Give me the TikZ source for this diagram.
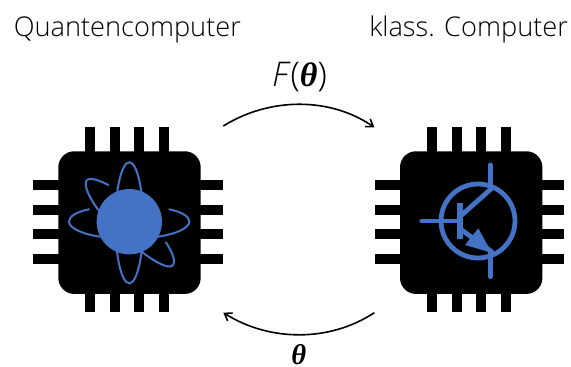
\documentclass[tikz,border=0pt]{standalone}
\usepackage{fontspec}
\setmainfont{Open Sans Light}[BoldFont=Open Sans Bold,ItalicFont=Open Sans Light Italic,BoldItalicFont=Open Sans Bold Italic]
\newfontfamily\thetafont{Liberation Serif}
\usetikzlibrary{arrows.meta}
\definecolor{cblue}{HTML}{4472C4}
\tikzset{
  px/.style={x=0.75pt,y=-0.75pt},
  pin/.style={fill=black},
  chipbody/.style={fill=black,rounded corners=12pt,minimum width=106.8pt,minimum height=107pt,inner sep=0pt,rectangle},
  orbit/.style={draw=cblue,line width=1.5pt,line cap=round},
  tr/.style={draw=cblue,line width=3.6pt,line cap=round},
  lab/.style={font=\fontsize{20.4}{24}\selectfont,inner sep=0pt,text=black,anchor=base west},
  mlab/.style={font=\fontsize{25.5}{28}\selectfont,inner sep=0pt,text=black,anchor=base},
  tlab/.style={font=\fontsize{21.5}{24}\selectfont,inner sep=0pt,text=black,anchor=base},
  conn/.style={draw=black,line width=1.2pt,-{Straight Barb[length=5pt,width=7pt]}}
}
\newcommand{\thetasym}{{\thetafont\bfseries\itshape θ}}
\newcommand{\chippins}[1]{%
  \begin{scope}[xshift=#1*0.75pt]
  \foreach \xx in {85,110,134.3,159.3}{
    \fill[pin] (\xx,127) rectangle (\xx+10,152);
    \fill[pin] (\xx,293) rectangle (\xx+10,312.3);}
  \foreach \yy in {180,205.3,229.3,254.3}{
    \fill[pin] (33.3,\yy) rectangle (59,\yy+10);
    \fill[pin] (200,\yy) rectangle (222.7,\yy+10);}
  \end{scope}}
\begin{document}
\begin{tikzpicture}[px]
\useasboundingbox (0,0) rectangle (571,367);
\chippins{0}
\chippins{341.7}
\node[chipbody] (qchip) at (129.5,222.6) {};
\node[chipbody] (cchip) at (471.2,222.6) {};
% atom
\draw[orbit] (129.3,222.8) ellipse [x radius=14,y radius=60.5];
\node[fill=cblue,circle,minimum size=49pt,inner sep=0pt] (atom) at (129.3,221.7) {};
\draw[orbit] (89,209.3) .. controls (76,212) and (69,216.5) .. (69,221.7) .. controls (69,228) and (82,234) .. (100,236.7);
\draw[orbit] (169.3,209.3) .. controls (182,212) and (189.3,216.5) .. (189.3,221.7) .. controls (189.3,228) and (176,234) .. (158.3,236.7);
\draw[orbit] (108.3,185) .. controls (97,179) and (86,176) .. (85.7,183) .. controls (85.5,190) and (91,200) .. (98.3,210);
\draw[orbit] (166,242.3) .. controls (172,252) and (177,262) .. (172,266) .. controls (167,269) and (152,260) .. (141.7,251.7);
% transistor
\draw[tr] (478,221) circle [radius=37];
\draw[tr] (421.7,221) -- (460,221);
\draw[tr,line cap=butt,line width=4.5pt] (459.7,203.3) -- (459.7,239.3);
\draw[tr] (461.7,215) -- (491.7,188.3);
\draw[tr] (490.3,165) -- (490.3,186.7);
\draw[tr] (461.7,230) -- (491.7,251.7);
\draw[tr] (490.3,253) -- (490.3,276.7);
\fill[cblue] (491.7,252.7) -- (465,245) -- (478.3,228.3) -- cycle;
% labels
\node[lab] (qlabel) at (13.5,37) {Quantencomputer};
\node[lab] (clabel) at (369,37) {klass. Computer};
\node[mlab] (flabel) at (299.5,86.7) {\textit{F}({\thetasym})};
\node[tlab] (tlabel) at (298.7,364) {\thetasym};
% connectors
\coordinate (qout) at (223.3,126);
\coordinate (cin) at (374.3,127.3);
\coordinate (cout) at (374.3,312.7);
\coordinate (qin) at (223.3,312.7);
\draw[conn] (qout) .. controls (270,97) and (330,97) .. (cin);
\draw[conn] (cout) .. controls (330,342) and (270,342) .. (qin);
\end{tikzpicture}
\end{document}
